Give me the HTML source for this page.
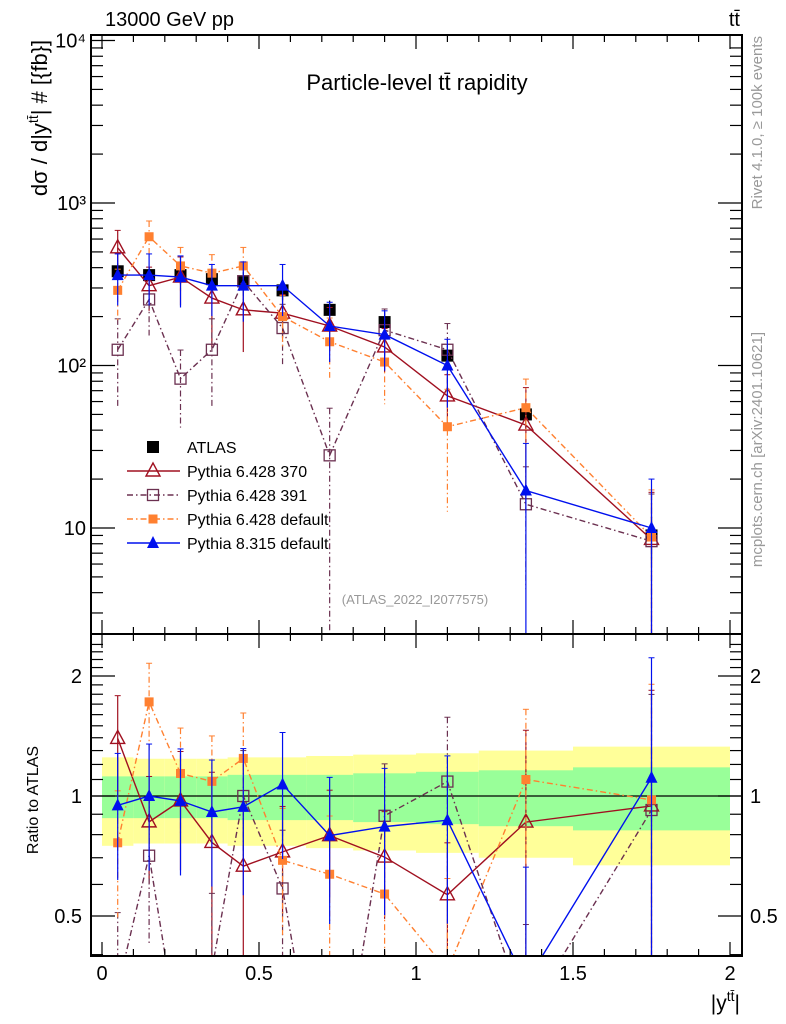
<!DOCTYPE html>
<html><head><meta charset="utf-8"><style>
html,body{margin:0;padding:0;background:#fff;overflow:hidden;width:786px;height:1024px}
svg{font-family:"Liberation Sans",sans-serif;display:block}
</style></head><body>
<svg id="c" width="786" height="1024" viewBox="0 0 786 1024" xmlns="http://www.w3.org/2000/svg">
<defs>
<clipPath id="cm"><rect x="91" y="35" width="651" height="599"/></clipPath>
<clipPath id="cr"><rect x="91" y="634" width="651" height="322"/></clipPath>
</defs>
<g id="bands" clip-path="url(#cr)"></g>
<g id="main" clip-path="url(#cm)"></g>
<g id="ratio" clip-path="url(#cr)"></g>
<g id="axes"></g>
<text x="105" y="26" font-size="20">13000 GeV pp</text>
<text x="740" y="26" font-size="20" text-anchor="end">tt̄</text>
<text x="417" y="90" font-size="22" text-anchor="middle">Particle-level tt̄ rapidity</text>
<text x="415" y="604" font-size="13" fill="#999" text-anchor="middle">(ATLAS_2022_I2077575)</text>
<text transform="translate(47,118) rotate(-90)" font-size="22" text-anchor="middle">dσ / d|y<tspan font-size="14" dy="-9">tt̄</tspan><tspan dy="9">| # [{fb}]</tspan></text>
<text transform="translate(38,800) rotate(-90)" font-size="16" text-anchor="middle">Ratio to ATLAS</text>
<text x="740" y="1010" font-size="21" text-anchor="end">|y<tspan font-size="14" dy="-9">tt̄</tspan><tspan dy="9">|</tspan></text>
<text transform="translate(762,36) rotate(-90)" font-size="15" fill="#999" text-anchor="end">Rivet 4.1.0, ≥ 100k events</text>
<text transform="translate(762,332) rotate(-90)" font-size="15" fill="#999" text-anchor="end">mcplots.cern.ch [arXiv:2401.10621]</text>
<g id="legend"></g>
</svg>
<script>
const edges=[0,0.1,0.2,0.3,0.4,0.5,0.65,0.8,1.0,1.2,1.5,2.0];
const atlas=[380,360,360,340,330,290,220,185,115,50,9];
const atlasErr=[0.12,0.12,0.12,0.12,0.13,0.13,0.14,0.15,0.16,0.2,0.3];
const bandTot=[0.25,0.24,0.24,0.24,0.25,0.25,0.26,0.27,0.28,0.3,0.33];
const bandStat=[0.12,0.12,0.12,0.12,0.13,0.13,0.13,0.14,0.15,0.16,0.18];
const p370=[530,310,350,260,220,210,175,130,65,43,8.5];
const p370Err=[0.28,0.3,0.33,0.5,0.45,0.3,0.3,0.3,0.35,0.7,0.95];
const p391=[125,255,83,125,330,170,28,165,125,14,8.3];
const p391Err=[0.55,0.4,0.5,0.55,0.3,0.4,0.95,0.35,0.45,0.7,0.95];
const p6def=[290,620,410,370,410,200,140,105,42,55,8.8];
const p6defErr=[0.35,0.25,0.3,0.3,0.3,0.35,0.4,0.45,0.7,0.5,0.95];
const p8=[360,360,350,310,310,310,175,155,100,17,10];
const p8Err=[0.35,0.35,0.35,0.35,0.4,0.35,0.4,0.4,0.45,0.95,1.0];
const xTicks=[0,0.5,1,1.5,2];
const yTicks=[10,100,1000,10000];
const yTickLabels=["10","10²","10³","10⁴"];
const rTicks=[0.5,1,2];

const NS="http://www.w3.org/2000/svg";
const cl=(v,a,b)=>Math.min(b,Math.max(a,v));
const X=v=>102+v*314;
const Y=v=>528-(Math.log10(v)-1)*162.5;
const R=v=>796-Math.log2(v)*120;
const Yc=v=>cl(Y(v),30,640);
const Rc=v=>cl(R(v),628,962);
function el(p,t,a){const e=document.createElementNS(NS,t);for(const k in a)e.setAttribute(k,a[k]);p.appendChild(e);return e;}
const centers=edges.slice(0,-1).map((e,i)=>(e+edges[i+1])/2);
const gM=document.getElementById('main'),gR=document.getElementById('ratio'),gB=document.getElementById('bands'),gA=document.getElementById('axes'),gL=document.getElementById('legend');

centers.forEach((c,i)=>{
 let r=el(gB,'rect',{x:X(edges[i]),y:R(1+bandTot[i]),width:X(edges[i+1])-X(edges[i]),height:R(1-bandTot[i])-R(1+bandTot[i]),fill:'#ffff99'});
 
 
 let g=el(gB,'rect',{x:X(edges[i]),y:R(1+bandStat[i]),width:X(edges[i+1])-X(edges[i]),height:R(1-bandStat[i])-R(1+bandStat[i]),fill:'#99ff99'});
 
 
});
el(gB,'line',{x1:91,x2:742,y1:R(1),y2:R(1),stroke:'#000','stroke-width':1.2});

function marker(p,type,x,y,col){
 let m;
 if(type==='sq') m=el(p,'rect',{x:x-6,y:y-6,width:12,height:12,fill:'#000'});
 else if(type==='osq') m=el(p,'rect',{x:x-5.5,y:y-5.5,width:11,height:11,fill:'none',stroke:col,'stroke-width':1.3});
 else if(type==='fsq') m=el(p,'rect',{x:x-4.5,y:y-4.5,width:9,height:9,fill:col});
 else if(type==='otri') m=el(p,'polygon',{points:`${x},${y-8} ${x-7},${y+5} ${x+7},${y+5}`,fill:'none',stroke:col,'stroke-width':1.4});
 else m=el(p,'polygon',{points:`${x},${y-7} ${x-6},${y+5} ${x+6},${y+5}`,fill:col});
 return m;
}
const series=[
 {name:'Pythia 6.428 370',v:p370,e:p370Err,col:'#a01020',dash:'',mk:'otri',key:'pythia6-370'},
 {name:'Pythia 6.428 391',v:p391,e:p391Err,col:'#6b3050',dash:'6,3,1.5,3',mk:'osq',key:'pythia6-391'},
 {name:'Pythia 6.428 default',v:p6def,e:p6defErr,col:'#ff8030',dash:'6,3,1.5,3',mk:'fsq',key:'pythia6-default'},
 {name:'Pythia 8.315 default',v:p8,e:p8Err,col:'#0010ee',dash:'',mk:'ftri',key:'pythia8-default'}
];
centers.forEach((c,i)=>{
 const x=X(c);
 const l=el(gM,'line',{x1:x,x2:x,y1:Yc(atlas[i]*(1+atlasErr[i])),y2:Yc(atlas[i]*(1-atlasErr[i])),stroke:'#000','stroke-width':1.2});
 
 
 const m=marker(gM,'sq',x,Y(atlas[i]),'#000');
 
 
});
series.forEach(s=>{
 const pts=centers.map((c,i)=>`${X(c)},${Y(s.v[i])}`).join(' ');
 const pl=el(gM,'polyline',{points:pts,fill:'none',stroke:s.col,'stroke-width':1.4,'stroke-dasharray':s.dash});
 
 
 const rp=centers.map((c,i)=>`${X(c)},${R(s.v[i]/atlas[i])}`).join(' ');
 const rl=el(gR,'polyline',{points:rp,fill:'none',stroke:s.col,'stroke-width':1.4,'stroke-dasharray':s.dash});
 
 
 centers.forEach((c,i)=>{
  const x=X(c),lo=Math.max(s.v[i]*(1-s.e[i]),0.01),hi=s.v[i]*(1+s.e[i]);
  const eb=el(gM,'line',{x1:x,x2:x,y1:Yc(hi),y2:Yc(lo),stroke:s.col,'stroke-width':1.2,'stroke-dasharray':s.dash});
  
  
  el(gM,'line',{x1:x-3,x2:x+3,y1:Yc(hi),y2:Yc(hi),stroke:s.col});
  const m=marker(gM,s.mk,x,Y(s.v[i]),s.col);
  
  
  const r=s.v[i]/atlas[i];
  const re=el(gR,'line',{x1:x,x2:x,y1:Rc(r*(1+s.e[i])),y2:Rc(Math.max(r*(1-s.e[i]),0.01)),stroke:s.col,'stroke-width':1.2,'stroke-dasharray':s.dash});
  
  
  el(gR,'line',{x1:x-3,x2:x+3,y1:Rc(r*(1+s.e[i])),y2:Rc(r*(1+s.e[i])),stroke:s.col});
  const rm=marker(gR,s.mk,x,R(r),s.col);
  
  
 });
});
const lg=[{name:'ATLAS',mk:'sq',col:'#000',dash:null}].concat(series);
lg.forEach((s,i)=>{
 const y=447+i*24;
 const g=el(gL,'g',{});
 
 
 if(s.dash!==null) el(g,'line',{x1:127,x2:180,y1:y,y2:y,stroke:s.col,'stroke-width':1.4,'stroke-dasharray':s.dash});
 marker(g,s.mk,153,y,s.col);
 const t=el(g,'text',{x:187,y:y+6,'font-size':16});t.textContent=s.name;
});
el(gA,'rect',{x:91,y:35,width:651,height:599,fill:'none',stroke:'#000','stroke-width':2});
el(gA,'rect',{x:91,y:634,width:651,height:322,fill:'none',stroke:'#000','stroke-width':2});
for(let v=0;v<=2.0001;v+=0.1){
 const x=X(v),maj=Math.abs(v*2-Math.round(v*2))<1e-6,L=maj?14:7;
 [[35,1],[634,-1],[634,1],[956,-1]].forEach(([y0,d])=>el(gA,'line',{x1:x,x2:x,y1:y0,y2:y0+d*L,stroke:'#000','stroke-width':1.2}));
}
xTicks.forEach(v=>{const t=el(gA,'text',{x:X(v),y:980,'font-size':20,'text-anchor':'middle'});t.textContent=String(v);
 });
for(let d=0;d<4;d++)for(let k=1;k<10;k++){
 const v=Math.pow(10,d)*k;const y=Y(v);if(y<35||y>634)continue;
 const L=k===1?24:12;
 el(gA,'line',{x1:91,x2:91+L,y1:y,y2:y,stroke:'#000','stroke-width':1.2});
 el(gA,'line',{x1:742,x2:742-L,y1:y,y2:y,stroke:'#000','stroke-width':1.2});
}
el(gA,'line',{x1:91,x2:115,y1:Y(10000),y2:Y(10000),stroke:'#000','stroke-width':1.2});
yTicks.forEach((v,i)=>{const t=el(gA,'text',{x:86,y:Y(v)+7,'font-size':20,'text-anchor':'end'});t.textContent=yTickLabels[i];
 });
for(let v=0.4;v<=2.5;v+=0.1){const y=R(v);if(y<634||y>956)continue;
 const maj=[0.5,1,2].some(m=>Math.abs(m-v)<1e-6),L=maj?24:12;
 el(gA,'line',{x1:91,x2:91+L,y1:y,y2:y,stroke:'#000','stroke-width':1.2});
 el(gA,'line',{x1:742,x2:742-L,y1:y,y2:y,stroke:'#000','stroke-width':1.2});}
rTicks.forEach(v=>{
 const t=el(gA,'text',{x:82,y:R(v)+7,'font-size':20,'text-anchor':'end'});t.textContent=String(v);
 
 const t2=el(gA,'text',{x:750,y:R(v)+7,'font-size':20});t2.textContent=String(v);
 });
</script>
</body></html>
